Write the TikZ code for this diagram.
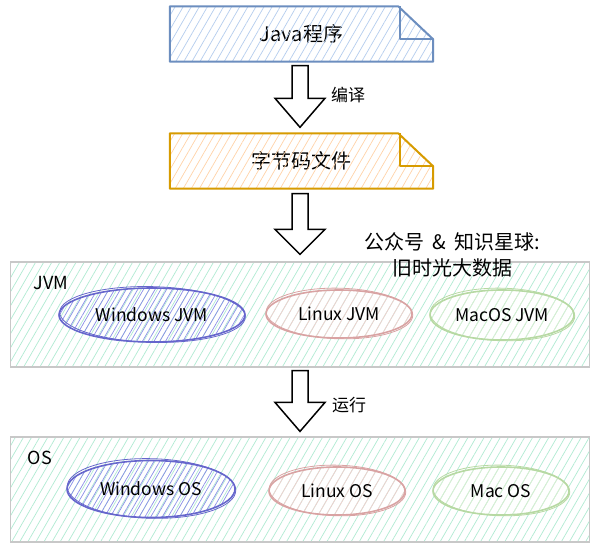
\documentclass[tikz,border=0pt]{standalone}
\usepackage{fontspec}
\setmainfont{Noto Sans CJK SC}
\usetikzlibrary{patterns.meta,calc,shapes.geometric}
\definecolor{docblue}{HTML}{6C8EBF}
\definecolor{docbluehatch}{HTML}{B5CDEE}
\definecolor{docorange}{HTML}{D79B00}
\definecolor{docorangehatch}{HTML}{FFD3A8}
\definecolor{boxgray}{HTML}{C8C8C8}
\definecolor{boxhatch}{HTML}{B0EBD2}
\definecolor{winstroke}{HTML}{6666CC}
\definecolor{winhatch}{HTML}{8A8EE8}
\definecolor{linstroke}{HTML}{D9A3A3}
\definecolor{linhatch}{HTML}{F5CFCF}
\definecolor{macstroke}{HTML}{B7D9A3}
\definecolor{machatch}{HTML}{DCEFD2}
\tikzset{
  hatch/.style={pattern={Lines[angle=60,distance=7pt,line width=0.7pt]},pattern color=#1},
  densehatch/.style={pattern={Lines[angle=60,distance=5pt,line width=0.7pt]},pattern color=#1},
  docnode/.style={minimum width=263pt,minimum height=55pt,inner sep=0pt,font=\fontsize{20}{22}\selectfont},
  container/.style={draw=boxgray,line width=1.2pt,hatch=boxhatch,minimum width=579pt,inner sep=0pt},
  osell/.style={ellipse,inner sep=0pt,line width=1.6pt,font=\fontsize{17.5}{19}\selectfont},
  lbl/.style={font=\fontsize{17}{19}\selectfont,inner sep=0pt},
  blockarrow/.style={draw=black,line width=1.5pt,fill=white,line join=miter}
}
\begin{document}
\begin{tikzpicture}[x=1pt,y=-1pt]
\useasboundingbox[fill=white] (0,0) rectangle (599,548);
% documents
\node[docnode] (java) at (301.5,34) {Java程序};
\node[docnode] (bytecode) at (301.5,161) {字节码文件};
\foreach \n/\c/\h in {java/docblue/docbluehatch,bytecode/docorange/docorangehatch}{
  \fill[hatch=\h] (\n.north west) -- ($(\n.north east)+(-35,0)$) -- ($(\n.north east)+(0,33)$) -- (\n.south east) -- (\n.south west) -- cycle;
  \draw[\c,line width=2pt,line join=round] (\n.north west) -- ($(\n.north east)+(-35,0)$) -- ($(\n.north east)+(0,33)$) -- (\n.south east) -- (\n.south west) -- cycle;
  \draw[\c,line width=2pt,line join=round] ($(\n.north east)+(-33,0)$) -- ($(\n.north east)+(-33,33)$) -- ($(\n.north east)+(0,33)$);
}
% containers
\node[container,minimum height=105pt] (jvm) at (300,314.5) {};
\node[container,minimum height=105pt] (os) at (300,489.5) {};
\node[lbl,font=\fontsize{18}{20}\selectfont] (jvmlbl) at (51,283) {JVM};
\node[lbl,font=\fontsize{18}{20}\selectfont] (oslbl) at (40,458) {OS};
% ellipses
\node[osell,draw=winstroke,densehatch=winhatch,minimum width=186pt,minimum height=54pt] (wjvm) at (152,315) {Windows JVM};
\node[osell,draw=linstroke,hatch=linhatch,minimum width=146pt,minimum height=48pt] (ljvm) at (339,314) {Linux JVM};
\node[osell,draw=macstroke,hatch=machatch,minimum width=144pt,minimum height=50pt] (mjvm) at (502,315) {MacOS JVM};
\node[osell,draw=winstroke,densehatch=winhatch,minimum width=168pt,minimum height=57pt] (wos) at (151,489) {Windows OS};
\node[osell,draw=linstroke,hatch=linhatch,minimum width=136pt,minimum height=48pt] (los) at (337,491) {Linux OS};
\node[osell,draw=macstroke,hatch=machatch,minimum width=136pt,minimum height=48pt] (mos) at (501,491) {Mac OS};
% sketchy second strokes
\foreach \e/\c in {wjvm/winstroke,ljvm/linstroke,mjvm/macstroke,wos/winstroke,los/linstroke,mos/macstroke}{
  \draw[\c,line width=0.8pt] let \p0=(\e.center), \p1=(\e.east), \p2=(\e.north) in
    [rotate around={-1.5:(\e.center)}] ($(\e.center)+(0.5,-0.5)$) ellipse [x radius={abs(\x1-\x0)-0.5pt}, y radius={abs(\y2-\y0)+0.5pt}];
}
% block arrows
\coordinate (a1top) at ($(java.south)+(-1.5,4)$);
\coordinate (a1tip) at ($(bytecode.north)+(-1.5,-6)$);
\coordinate (a2top) at ($(bytecode.south)+(-1.5,5)$);
\coordinate (a2tip) at ($(jvm.north)+(0,-7)$);
\coordinate (a3top) at ($(jvm.south)+(0,3)$);
\coordinate (a3tip) at ($(os.north)+(0,-5)$);
\foreach \t/\p/\hs in {a1top/a1tip/29,a2top/a2tip/25,a3top/a3tip/29}{
  \draw[blockarrow] ($(\t)+(-8,0)$) -- ($(\p)+(-8,-\hs)$) -- ($(\p)+(-25,-\hs)$) -- (\p) -- ($(\p)+(25,-\hs)$) -- ($(\p)+(8,-\hs)$) -- ($(\t)+(8,0)$) -- cycle;
}
\node[lbl,anchor=west] (compile) at (331,95) {编译};
\node[lbl,anchor=west] (run) at (332,405) {运行};
\node[lbl,align=center,font=\fontsize{20}{26}\selectfont] (note) at (452,255) {公众号\hspace{8pt}\&\hspace{8pt}知识星球:\\旧时光大数据};
\end{tikzpicture}
\end{document}
